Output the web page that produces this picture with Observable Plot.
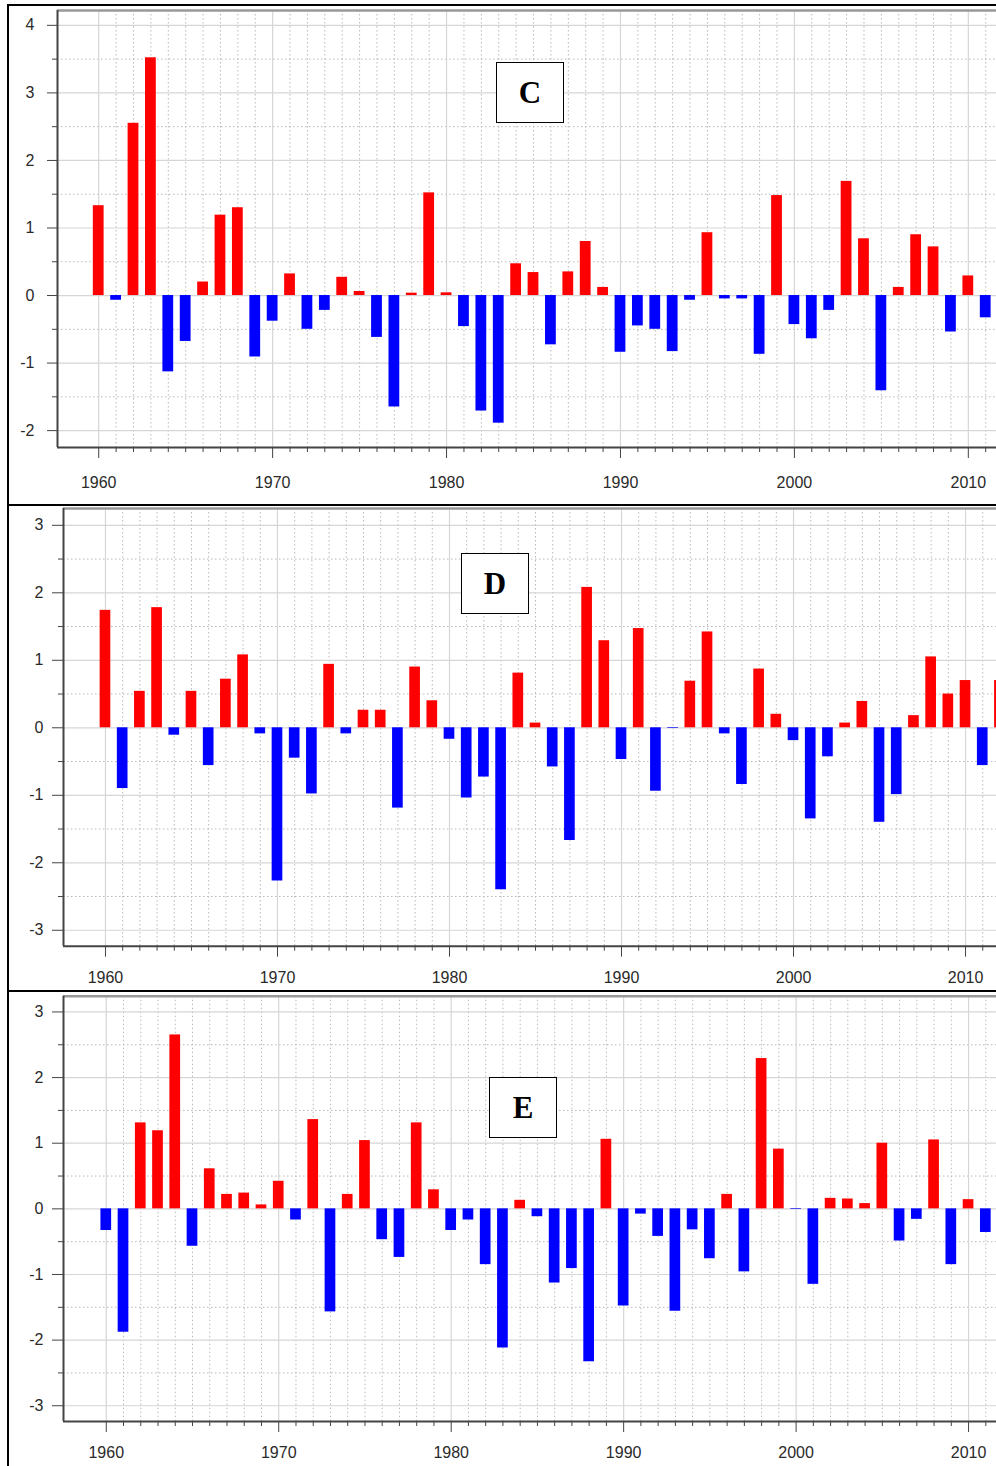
<!DOCTYPE html>
<html>
<head>
<meta charset="utf-8">
<script src="https://cdn.jsdelivr.net/npm/d3@7"></script>
<script src="https://cdn.jsdelivr.net/npm/@observablehq/plot@0.6"></script>
<style>
  html, body { margin: 0; padding: 0; background: #fff; overflow: hidden; }
  #root { position: relative; width: 996px; height: 1466px; overflow: hidden; background: #fff; }
  .panel { position: absolute; left: 0; }
  .panel svg { display: block; }
  .line { position: absolute; background: #000; }
  .tag { position: absolute; box-sizing: border-box; border: 1.5px solid #000; background: #fff;
         font-family: "Liberation Serif", "Times New Roman", serif; font-weight: bold; font-size: 31px;
         display: flex; align-items: center; justify-content: center; color: #000; }
</style>
</head>
<body>
<div id="root"></div>
<script>
// ---------------- data ----------------
const firstYear = 1960;
const valuesC = [1.33, -0.07, 2.55, 3.52, -1.13, -0.68, 0.20, 1.19, 1.30, -0.91,
                 -0.38, 0.32, -0.50, -0.22, 0.27, 0.06, -0.62, -1.65, 0.035, 1.52,
                 0.04, -0.46, -1.71, -1.89, 0.47, 0.34, -0.73, 0.35, 0.80, 0.12,
                 -0.84, -0.45, -0.50, -0.83, -0.07, 0.93, -0.05, -0.05, -0.87, 1.48,
                 -0.43, -0.64, -0.22, 1.69, 0.84, -1.41, 0.12, 0.90, 0.72, -0.54,
                 0.29, -0.33];
const valuesD = [1.74, -0.90, 0.54, 1.78, -0.11, 0.54, -0.56, 0.72, 1.08, -0.09,
                 -2.27, -0.45, -0.98, 0.94, -0.09, 0.26, 0.26, -1.19, 0.90, 0.40,
                 -0.17, -1.04, -0.73, -2.40, 0.81, 0.07, -0.58, -1.67, 2.08, 1.29,
                 -0.47, 1.47, -0.94, -0.01, 0.69, 1.42, -0.09, -0.84, 0.87, 0.20,
                 -0.19, -1.35, -0.43, 0.07, 0.39, -1.40, -0.99, 0.18, 1.05, 0.50,
                 0.70, -0.56, 0.70];
const valuesE = [-0.33, -1.88, 1.31, 1.19, 2.65, -0.57, 0.61, 0.22, 0.24, 0.06,
                 0.42, -0.17, 1.36, -1.57, 0.22, 1.04, -0.47, -0.74, 1.31, 0.29,
                 -0.33, -0.17, -0.85, -2.12, 0.13, -0.12, -1.13, -0.91, -2.33, 1.06,
                 -1.48, -0.08, -0.42, -1.56, -0.32, -0.76, 0.22, -0.96, 2.29, 0.91,
                 -0.01, -1.15, 0.16, 0.15, 0.08, 1.00, -0.49, -0.16, 1.05, -0.85,
                 0.14, -0.36];
const xTickLabels = [1960, 1970, 1980, 1990, 2000, 2010];
const yTicksC = [-2, -1, 0, 1, 2, 3, 4];
const yTicksD = [-3, -2, -1, 0, 1, 2, 3];
const yTicksE = [-3, -2, -1, 0, 1, 2, 3];
const panelLabels = ["C", "D", "E"];

// ---------------- drawing ----------------
const root = document.getElementById("root");
const minorYears = d3.range(1960, 2012);

function panel(cfg) {
  const data = cfg.values.map((v, i) => ({year: firstYear + i, value: v}));
  const halfTicks = d3.range(cfg.yTicks[0] - 0.5, cfg.yTicks[cfg.yTicks.length - 1] + 0.51, 0.5)
    .filter(v => !Number.isInteger(v) && v > cfg.yDomain[0] && v < cfg.yDomain[1]);
  const svg = Plot.plot({
    width: 996,
    height: cfg.height,
    marginLeft: cfg.marginLeft,
    marginRight: 0,
    marginTop: cfg.marginTop,
    marginBottom: cfg.marginBottom,
    x: {type: "linear", domain: cfg.xDomain, axis: null},
    y: {type: "linear", domain: cfg.yDomain, axis: null},
    style: {fontFamily: "'Liberation Sans', Arial, sans-serif", fontSize: "16px", color: "#2a2a2a", background: "transparent"},
    marks: [
      Plot.ruleY(halfTicks, {stroke: "#b8b8b8", strokeDasharray: "1.5,2.5"}),
      Plot.ruleX(minorYears.filter(y => y % 10 !== 0), {stroke: "#b8b8b8", strokeDasharray: "1.5,2.5"}),
      Plot.ruleY(cfg.yTicks, {stroke: "#d6d6d6", strokeWidth: 1.2}),
      Plot.ruleX(xTickLabels, {stroke: "#d6d6d6", strokeWidth: 1.2}),
      Plot.rectY(data, {
        x1: d => d.year - 0.31,
        x2: d => d.year + 0.31,
        y1: 0,
        y2: "value",
        fill: d => d.value >= 0 ? "#ff0000" : "#0000ff"
      }),
      Plot.axisY(cfg.yTicks, {label: null, tickSize: cfg.yTickSize, tickPadding: cfg.yPad, tickFormat: d => String(d), stroke: "#444"}),
      Plot.axisY(halfTicks, {label: null, tickSize: 5, tickFormat: () => "", stroke: "#444"}),
      Plot.axisX(xTickLabels, {label: null, tickSize: 11, tickPadding: cfg.xPad, tickFormat: d => String(d), stroke: "#444"}),
      Plot.axisX(minorYears.filter(y => y % 10 !== 0), {label: null, tickSize: 5, tickFormat: () => "", stroke: "#444"}),
      Plot.ruleY([cfg.yDomain[1]], {stroke: "#999", strokeWidth: 2.5}),
      Plot.ruleY([cfg.yDomain[0]], {stroke: "#444", strokeWidth: 2}),
      Plot.ruleX([cfg.xDomain[0]], {stroke: "#444", strokeWidth: 2})
    ]
  });
  const div = document.createElement("div");
  div.className = "panel";
  div.style.top = cfg.top + "px";
  div.appendChild(svg);
  root.appendChild(div);
}

panel({values: valuesC, yTicks: yTicksC, yDomain: [-2.25, 4.22], xDomain: [1957.63, 2011.62],
       top: 0, height: 505, marginTop: 10, marginBottom: 58, marginLeft: 57,
       yTickSize: 10, yPad: 13, xPad: 18});
panel({values: valuesD, yTicks: yTicksD, yDomain: [-3.236, 3.249], xDomain: [1957.56, 2011.80],
       top: 505, height: 486, marginTop: 3, marginBottom: 45.3, marginLeft: 63,
       yTickSize: 11, yPad: 9, xPad: 14});
panel({values: valuesE, yTicks: yTicksE, yDomain: [-3.24, 3.24], xDomain: [1957.52, 2011.62],
       top: 991, height: 475, marginTop: 4.7, marginBottom: 45, marginLeft: 63,
       yTickSize: 11, yPad: 9, xPad: 14});

// frame lines of the figure table
function line(left, top, width, height) {
  const d = document.createElement("div");
  d.className = "line";
  Object.assign(d.style, {left: left + "px", top: top + "px", width: width + "px", height: height + "px"});
  root.appendChild(d);
}
line(6.5, 4, 2.5, 1462);
line(6.5, 4, 990, 2);
line(6.5, 504, 990, 2);
line(6.5, 990, 990, 2);

// panel tags
const tagBoxes = [
  {left: 496, top: 62, width: 68, height: 61},
  {left: 461, top: 553, width: 68, height: 61},
  {left: 489, top: 1077, width: 68, height: 61}
];
panelLabels.forEach((t, i) => {
  const d = document.createElement("div");
  d.className = "tag";
  Object.assign(d.style, {left: tagBoxes[i].left + "px", top: tagBoxes[i].top + "px",
    width: tagBoxes[i].width + "px", height: tagBoxes[i].height + "px"});
  d.textContent = t;
  root.appendChild(d);
});
</script>
</body>
</html>
